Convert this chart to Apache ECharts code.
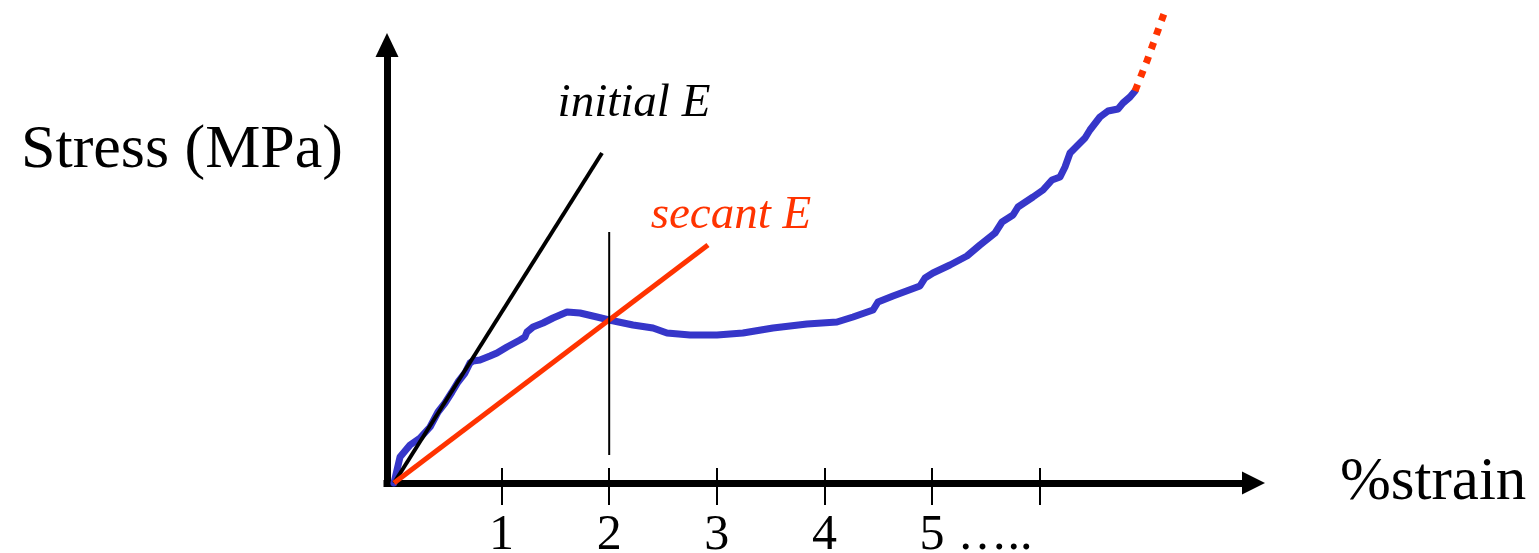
<!DOCTYPE html>
<html>
<head>
<meta charset="utf-8">
<title>Stress vs strain</title>
<script src="https://cdn.jsdelivr.net/npm/echarts@6/dist/echarts.min.js"></script>
<style>
  html, body { margin: 0; padding: 0; background: #fff; }
  #chart { width: 1539px; height: 553px; }
</style>
</head>
<body>
<div id="chart"></div>
<script>
// Measured stress-strain response (strain in %, stress in MPa)
const curveStrain = [0, 0.056, 0.149, 0.242, 0.335, 0.409, 0.474, 0.539, 0.595, 0.660, 0.706, 0.734, 0.799,
  0.892, 0.957, 1.050, 1.171, 1.217, 1.236, 1.292, 1.385, 1.478, 1.608, 1.729, 1.887, 2.0, 2.221, 2.407,
  2.537, 2.751, 3.002, 3.243, 3.522, 3.838, 4.117, 4.266, 4.452, 4.498, 4.638, 4.888, 4.935, 5.009, 5.167,
  5.325, 5.446, 5.586, 5.651, 5.753, 5.799, 5.939, 6.032, 6.115, 6.190, 6.236, 6.283, 6.357, 6.422, 6.468,
  6.561, 6.636, 6.729, 6.775, 6.840, 6.887];
const curveStress = [0, 0.52, 0.76, 0.90, 1.12, 1.42, 1.60, 1.82, 2.02, 2.20, 2.40, 2.44, 2.46,
  2.54, 2.60, 2.72, 2.86, 2.92, 3.02, 3.12, 3.20, 3.30, 3.42, 3.40, 3.32, 3.26, 3.16, 3.10,
  3.00, 2.96, 2.96, 3.00, 3.10, 3.18, 3.22, 3.32, 3.46, 3.62, 3.74, 3.94, 4.10, 4.20, 4.36,
  4.54, 4.76, 5.00, 5.22, 5.36, 5.52, 5.72, 5.86, 6.06, 6.12, 6.32, 6.60, 6.76, 6.90, 7.06,
  7.32, 7.44, 7.48, 7.60, 7.72, 7.84];

// Continuation of the curve towards failure
const extStrain = [6.887, 6.998, 7.175];
const extStress = [7.84, 8.44, 9.5];

// Tangent (initial modulus) and secant (modulus at 2 % strain)
const initialStrain = [0, 1.933];
const initialStress = [0, 6.6];
const secantStrain = [0, 2.918];
const secantStress = [0, 4.76];

// Vertical guide at the secant strain
const guideStrain = [2, 2];
const guideStress = [0.56, 5.02];

const tickValues = [1, 2, 3, 4, 5, 6];
const labelValues = [1, 2, 3, 4, 5];
const continuationValues = [5];
const continuationText = ' \u2026..';

const zip = (xs, ys) => xs.map((x, i) => [x, ys[i]]);

const SERIF = '"Liberation Serif", "Times New Roman", serif';
const RED = '#ff3300';
const BLUE = '#3636c9';

const xMin = -0.065, xMax = 7.988;

const chart = echarts.init(document.getElementById('chart'), null, { renderer: 'canvas' });
chart.setOption({
  animation: false,
  backgroundColor: '#ffffff',
  grid: { left: 387, right: 285.5, top: 45, bottom: 70, outerBoundsMode: 'none' },
  xAxis: [{
    type: 'value', min: xMin, max: xMax, position: 'bottom',
    name: '%strain', nameLocation: 'end', nameGap: 86.5, nameMoveOverlap: false,
    nameTextStyle: { fontFamily: SERIF, fontSize: 61, color: '#000', align: 'left', verticalAlign: 'middle', padding: [0, 0, 12, 0] },
    axisLine: {
      show: true, onZero: false, symbol: ['none', 'triangle'], symbolSize: [23, 23],
      lineStyle: { color: '#000', width: 7, cap: 'square' }
    },
    axisTick: { show: true, inside: false, length: 22, customValues: tickValues, lineStyle: { color: '#000', width: 2 } },
    axisLabel: {
      show: true, customValues: labelValues, margin: 28,
      showMinLabel: true, showMaxLabel: true, hideOverlap: false,
      fontFamily: SERIF, fontSize: 50, color: '#000',
      formatter: v => String(v)
    },
    splitLine: { show: false }
  }, {
    // inner half of the crossing tick marks, plus the trailing dots after the last number
    type: 'value', min: xMin, max: xMax, position: 'bottom',
    axisLine: { show: false, onZero: false },
    axisTick: { show: true, inside: true, length: 15, customValues: tickValues, lineStyle: { color: '#000', width: 2 } },
    axisLabel: {
      show: true, customValues: continuationValues, margin: 28,
      showMinLabel: true, showMaxLabel: true,
      align: 'left', padding: [0, 0, 0, 13],
      fontFamily: SERIF, fontSize: 50, color: '#000',
      formatter: () => continuationText
    },
    splitLine: { show: false }
  }],
  yAxis: {
    type: 'value', min: 0, max: 8.76,
    name: 'Stress (MPa)', nameLocation: 'end', nameGap: -106, nameMoveOverlap: false,
    nameTextStyle: { fontFamily: SERIF, fontSize: 62, color: '#000', align: 'right', verticalAlign: 'middle', padding: [0, 44, 0, 0] },
    axisLine: {
      show: true, onZero: false, symbol: ['none', 'triangle'], symbolSize: [23, 24],
      lineStyle: { color: '#000', width: 7, cap: 'square' }
    },
    axisTick: { show: false },
    axisLabel: { show: false },
    splitLine: { show: false }
  },
  series: [{
    name: 'stress-strain', type: 'line', data: zip(curveStrain, curveStress),
    symbol: 'none', smooth: false, clip: false, z: 2,
    lineStyle: { color: BLUE, width: 7, join: 'round', cap: 'round' }
  }, {
    name: 'initial E', type: 'line', data: zip(initialStrain, initialStress),
    symbol: 'none', clip: false, z: 3,
    lineStyle: { color: '#000', width: 4 },
    markPoint: {
      symbol: 'circle', symbolSize: 0, silent: true,
      data: [{ coord: [initialStrain[1], initialStress[1]] }],
      label: { show: true, position: 'inside', formatter: 'initial E', offset: [32, -49],
        fontFamily: SERIF, fontStyle: 'italic', fontSize: 47, color: '#000' }
    }
  }, {
    name: 'secant E', type: 'line', data: zip(secantStrain, secantStress),
    symbol: 'none', clip: false, z: 4,
    lineStyle: { color: RED, width: 5 },
    markPoint: {
      symbol: 'circle', symbolSize: 0, silent: true,
      data: [{ coord: [secantStrain[1], secantStress[1]] }],
      label: { show: true, position: 'inside', formatter: 'secant E', offset: [23, -29],
        fontFamily: SERIF, fontStyle: 'italic', fontSize: 47, color: RED }
    }
  }, {
    name: 'guide', type: 'line', data: zip(guideStrain, guideStress),
    symbol: 'none', clip: false, z: 5,
    lineStyle: { color: '#000', width: 2 }
  }, {
    name: 'extension', type: 'line', data: zip(extStrain, extStress),
    symbol: 'none', clip: false, z: 6,
    lineStyle: { color: RED, width: 7, type: [7, 8], cap: 'butt' }
  }]
});
</script>
</body>
</html>
